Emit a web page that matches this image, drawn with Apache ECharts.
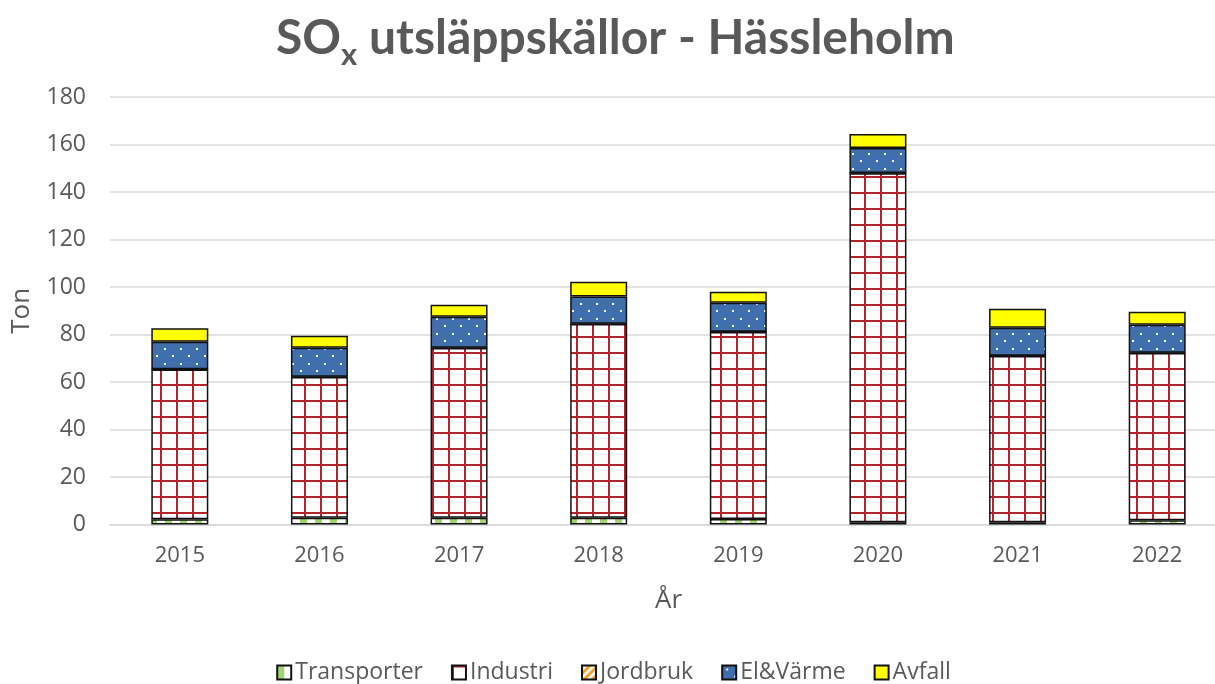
<!DOCTYPE html>
<html>
<head>
<meta charset="utf-8">
<script src="https://cdn.jsdelivr.net/npm/echarts@6/dist/echarts.min.js"></script>
<style>html,body{margin:0;padding:0;background:#fff;overflow:hidden;width:1215px;height:684px;}#c{width:1227px;height:684px;}</style>
</head>
<body>
<div id="c"></div>
<script>
const categories = ['2015','2016','2017','2018','2019','2020','2021','2022'];
const transporter = [2.2, 2.8, 2.8, 2.8, 2.3, 1.0, 1.0, 1.8];
const industri    = [63.1, 59.3, 71.5, 81.6, 78.8, 146.9, 70.0, 70.4];
const jordbruk    = [0.1, 0.1, 0.1, 0.1, 0.1, 0.1, 0.1, 0.1];
const elvarme     = [11.6, 12.2, 13.1, 11.5, 12.2, 10.5, 11.7, 11.8];
const avfall      = [5.6, 5.1, 5.0, 6.2, 4.6, 5.9, 8.0, 5.5];
const yTicks = [0, 20, 40, 60, 80, 100, 120, 140, 160, 180];

function tile(w, h, draw) {
  const c = document.createElement('canvas');
  c.width = w; c.height = h;
  const g = c.getContext('2d');
  draw(g, w, h);
  return { image: c, repeat: 'repeat' };
}
const gridPat = tile(16, 16, (g, w, h) => {
  g.fillStyle = '#fff'; g.fillRect(0, 0, w, h);
  g.fillStyle = '#B3242A';
  g.fillRect(0, 0, 2, h);
  g.fillRect(0, 0, w, 2);
});
const dotPat = tile(16, 15, (g, w, h) => {
  g.fillStyle = '#416FAE'; g.fillRect(0, 0, w, h);
  g.fillStyle = '#fff';
  g.fillRect(4, 3, 2, 2);
  g.fillRect(12, 10, 2, 2);
});
const stripePat = tile(15, 10, (g, w, h) => {
  g.fillStyle = '#fff'; g.fillRect(0, 0, w, h);
  g.fillStyle = '#A3D36F';
  g.fillRect(0, 0, 7, h);
});
const diagPat = tile(8, 8, (g, w, h) => {
  g.fillStyle = '#fff'; g.fillRect(0, 0, w, h);
  g.strokeStyle = '#F0A020'; g.lineWidth = 3;
  g.beginPath(); g.moveTo(0, 8); g.lineTo(8, 0); g.stroke();
  g.beginPath(); g.moveTo(-4, 4); g.lineTo(4, -4); g.stroke();
  g.beginPath(); g.moveTo(4, 12); g.lineTo(12, 4); g.stroke();
});

const txt = '#595959';
const font = 'Open Sans';
const border = { borderColor: '#111', borderWidth: 1.5 };
function s(name, data, color) {
  return {
    name, type: 'bar', stack: 'a', data, barWidth: 57,
    itemStyle: Object.assign({ color: color }, border),
    emphasis: { disabled: true }
  };
}

const chart = echarts.init(document.getElementById('c'), null, { renderer: 'canvas' });
chart.setOption({
  animation: false,
  backgroundColor: '#fff',
  title: {
    text: '{a|SO}{s|x}{a| utsläppskällor - Hässleholm}',
    left: 271, top: 6,
    textStyle: {
      rich: {
        a: { fontFamily: 'Lato', fontWeight: 'bold', fontSize: 48, color: txt, lineHeight: 56 },
        s: { fontFamily: 'Lato', fontWeight: 'bold', fontSize: 31, color: txt, lineHeight: 31, padding: [32, 0, 0, 0] }
      }
    }
  },
  legend: {
    bottom: -5, left: 'center', itemWidth: 14, itemHeight: 14, itemGap: 28, icon: 'rect',
    textStyle: { fontFamily: font, fontSize: 23, color: txt, padding: [0, 0, 0, -1] },
    data: ['Transporter', 'Industri', 'Jordbruk', 'El&Värme', 'Avfall']
  },
  grid: { left: 110, right: 0, top: 97, bottom: 159.5 },
  xAxis: {
    type: 'category', data: categories,
    name: 'År', nameLocation: 'middle', nameGap: 63,
    nameTextStyle: { fontFamily: font, fontSize: 26, color: txt },
    axisLine: { lineStyle: { color: '#d9d9d9', width: 1.5 } },
    axisTick: { show: false },
    axisLabel: { fontFamily: font, fontSize: 22, color: txt, margin: 20 }
  },
  yAxis: {
    type: 'value', min: yTicks[0], max: yTicks[yTicks.length - 1], interval: 20,
    name: 'Ton', nameLocation: 'middle', nameGap: 75, nameRotate: 90,
    nameTextStyle: { fontFamily: font, fontSize: 26, color: txt },
    axisLine: { show: false }, axisTick: { show: false },
    axisLabel: { fontFamily: font, fontSize: 23, color: txt, margin: 24 },
    splitLine: { lineStyle: { color: '#d9d9d9', width: 1.5 } }
  },
  series: [
    s('Transporter', transporter, stripePat),
    s('Industri', industri, gridPat),
    s('Jordbruk', jordbruk, diagPat),
    s('El&Värme', elvarme, dotPat),
    s('Avfall', avfall, '#FFFF00')
  ]
});
</script>
</body>
</html>
